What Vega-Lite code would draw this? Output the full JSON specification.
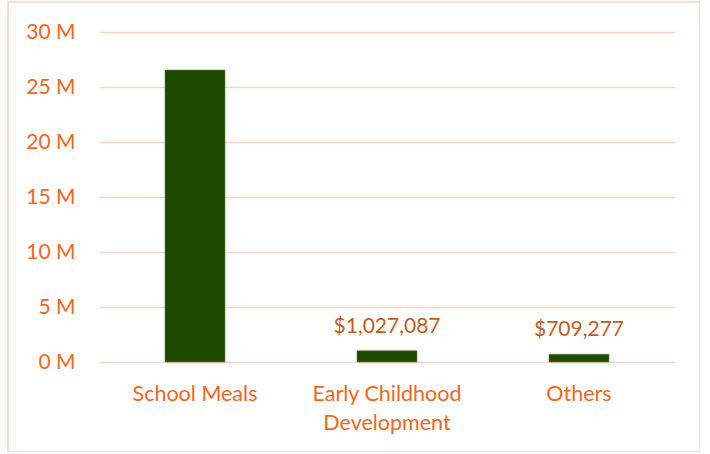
{
  "$schema": "https://vega.github.io/schema/vega-lite/v6.json",
  "autosize": "none",
  "width": 692,
  "height": 450,
  "padding": {"left": 8, "top": 2, "right": 0, "bottom": 0},
  "background": "white",
  "config": {
    "view": {"stroke": "#FCDCC8", "strokeWidth": 2},
    "font": "Lato"
  },
  "data": {
    "values": [
      {"category": "School Meals", "amount": 26540000, "label": ""},
      {"category": "Early Childhood Development", "amount": 1027087, "label": "$1,027,087"},
      {"category": "Others", "amount": 709277, "label": "$709,277"}
    ]
  },
  "encoding": {
    "x": {
      "field": "category",
      "type": "nominal",
      "sort": null,
      "scale": {"range": [91, 667], "paddingInner": 0.6875, "paddingOuter": 0.34375},
      "axis": {
        "title": null,
        "domain": false,
        "ticks": false,
        "grid": false,
        "labelAngle": 0,
        "offset": -90,
        "labelPadding": 21,
        "labelFontSize": 21.5,
        "labelColor": "#F4661B",
        "labelLineHeight": 29,
        "labelExpr": "datum.value == 'Early Childhood Development' ? ['Early Childhood', 'Development'] : datum.value"
      }
    },
    "y": {
      "field": "amount",
      "type": "quantitative",
      "scale": {"domain": [0, 30000000], "range": [360, 30], "nice": false},
      "axis": {
        "title": null,
        "domain": false,
        "ticks": false,
        "values": [0, 5000000, 10000000, 15000000, 20000000, 25000000, 30000000],
        "labelExpr": "(datum.value / 1000000) + ' M'",
        "offset": -75,
        "labelPadding": 8,
        "labelFontSize": 21,
        "labelColor": "#F4661B",
        "grid": true,
        "gridColor": "#FBD5C0",
        "gridWidth": 1.5
      }
    }
  },
  "layer": [
    {"mark": {"type": "bar", "color": "#1E4B00", "stroke": "#5E7F45", "strokeWidth": 0.6}},
    {
      "mark": {"type": "text", "baseline": "alphabetic", "dy": -18, "fontSize": 21, "color": "#C65A1E"},
      "encoding": {"text": {"field": "label"}}
    }
  ]
}
